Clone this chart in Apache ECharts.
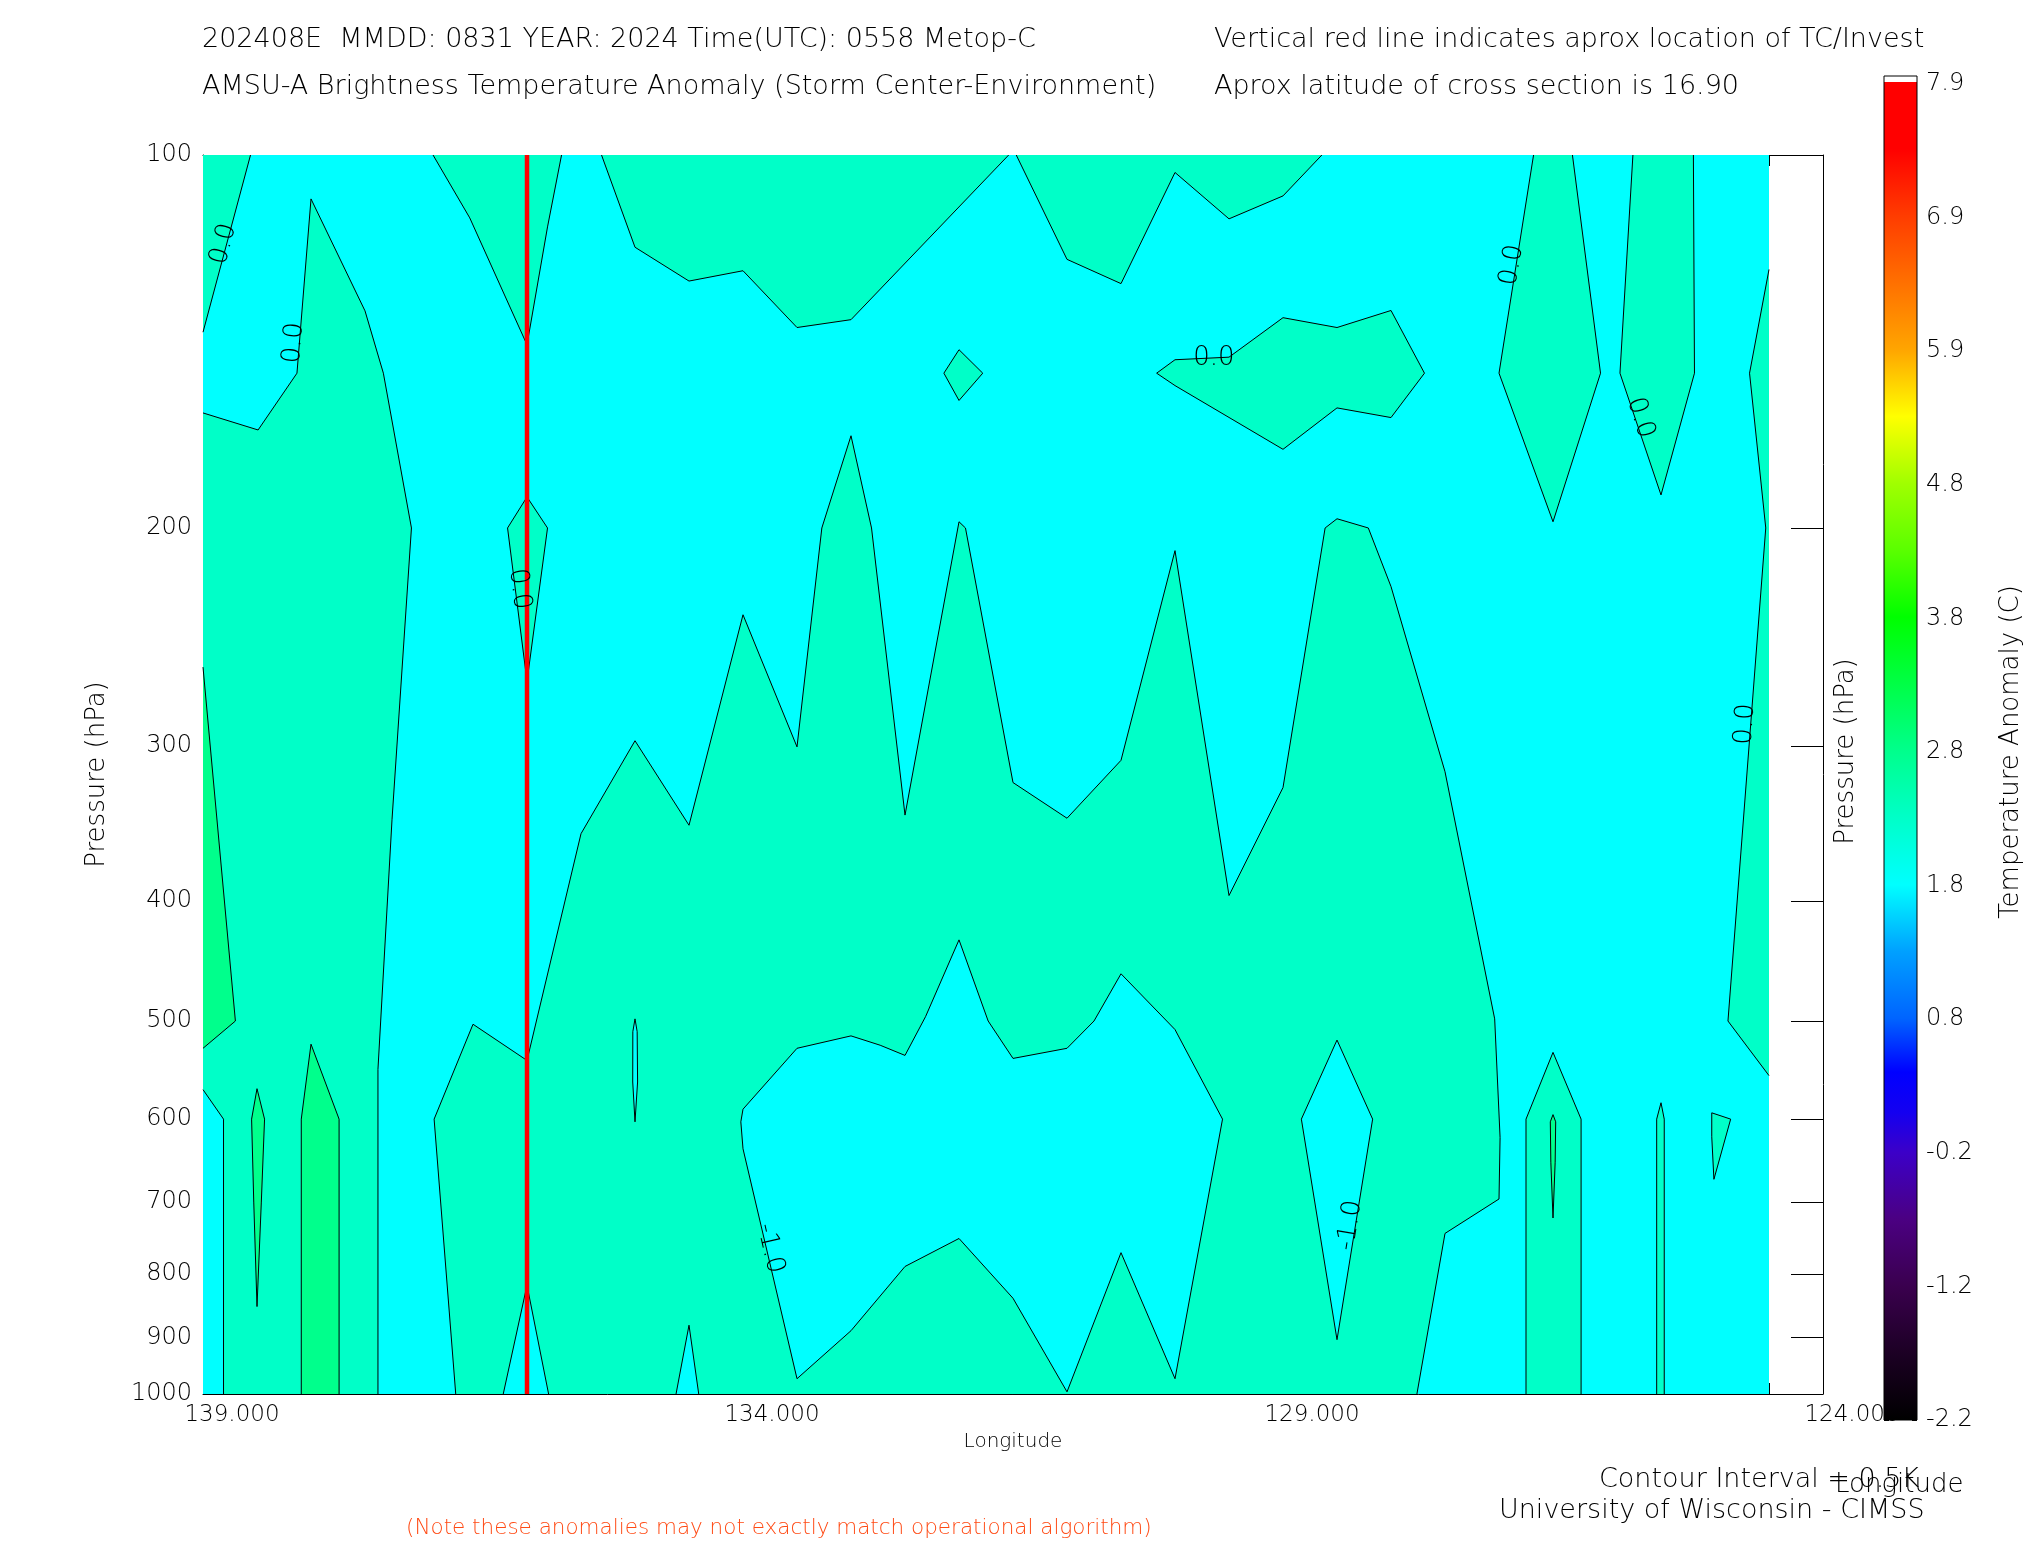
<!DOCTYPE html>
<html><head><meta charset="utf-8">
<script src="https://cdn.jsdelivr.net/npm/echarts@6/dist/echarts.min.js"></script>
<style>html,body{margin:0;padding:0;background:#fff}#chart{width:2025px;height:1550px}</style>
</head><body><div id="chart"></div>
<script>
// ================= DATA =================
const longitudeTicks = [139, 134, 129, 124];
const pressureTicks = [100, 200, 300, 400, 500, 600, 700, 800, 900, 1000];
const colorbarLabels = ['-2.2', '-1.2', '-0.2', '0.8', '1.8', '2.8', '3.8', '4.8', '5.9', '6.9', '7.9'];
const stormLongitude = 136.0;
const sectionWest = 139.0, sectionEast = 124.5, sectionTop = 100, sectionBottom = 1000;

// cross-section extent (cyan base band)
const sectionFrame = [[139, 100], [124.5, 100], [124.5, 1000], [139, 1000]];

// warmer band (aquamarine) contour regions, vertices [longitude, pressure hPa]
const warmTopLeft = [[139, 100], [138.56, 100], [139, 139]];
const warmWestColumn = [[139, 161.5], [138.49, 166.7], [138.13, 150], [138.0, 108.5], [137.5, 133.6], [137.33, 150], [137.07, 200], [137.25, 344], [137.38, 547], [137.38, 1000], [138.81, 1000], [138.81, 600], [139, 568]];
const warmTopStorm = [[136.87, 100], [136.53, 112.4], [136.0, 142.3], [135.81, 114.3], [135.68, 100]];
const warmStormDiamond = [[136.18, 200], [136.0, 188.8], [135.81, 200], [136.0, 266]];
const warmLowerCentral = [[136.66, 1000], [136.86, 600], [136.5, 503], [136.0, 538], [135.5, 353], [135.0, 297], [134.5, 347.5], [134.0, 235], [133.5, 300.4], [133.27, 200], [133.0, 168.5], [132.81, 200], [132.5, 341], [132.0, 197.7], [131.94, 200], [131.5, 321], [131.0, 343], [130.5, 308], [130.0, 208.6], [129.5, 396], [129.0, 324], [128.61, 200], [128.5, 196.6], [128.21, 200], [128.0, 223], [127.5, 314.6], [127.04, 498], [126.99, 621], [127.0, 696], [127.5, 742], [127.76, 1000], [134.41, 1000], [134.5, 880], [134.62, 1000], [135.8, 1000], [136.0, 817], [136.22, 1000]];
const warmTopMiddle = [[135.31, 100], [135.0, 118.7], [134.5, 126.4], [134.0, 124.0], [133.5, 137.8], [133.0, 135.8], [131.54, 100]];
const warmTopEast = [[131.47, 100], [131.0, 121.4], [130.5, 127.0], [130.0, 103.3], [129.5, 112.6], [129.0, 107.9], [128.64, 100]];
const warmSmallDiamond = [[132.14, 150], [132.0, 143.6], [131.78, 150], [132.0, 157.8]];
const warmUpperTongue = [[130.17, 150], [130.0, 146.3], [129.5, 145.6], [129.0, 135.3], [128.5, 137.8], [128.0, 133.5], [127.69, 150], [128.0, 162.9], [128.5, 160.0], [129.0, 172.8], [130.0, 153.5]];
const warmSpikeA = [[126.68, 100], [127.0, 150], [126.5, 197.7], [126.06, 150], [126.32, 100]];
const warmSpikeB = [[125.76, 100], [125.88, 150], [125.5, 188.1], [125.19, 150], [125.2, 100]];
const warmEastEdge = [[124.5, 123.7], [124.68, 150], [124.53, 200], [124.88, 500], [124.5, 553.4]];
const warmLowColumnA = [[126.75, 1000], [126.75, 600], [126.5, 530], [126.24, 600], [126.24, 1000]];
const warmLowColumnB = [[125.54, 1000], [125.54, 600], [125.5, 582], [125.47, 600], [125.47, 1000]];
const warmSmallTriangle = [[125.03, 593], [124.855, 600], [125.01, 671], [125.03, 620]];

// warmest band (green) contour regions
const hotWestEdge = [[139, 259], [138.70, 500], [139, 526]];
const hotSliverWest = [[138.50, 567], [138.43, 600], [138.46, 700], [138.50, 850], [138.53, 700], [138.55, 600]];
const hotColumnWest = [[138.0, 522], [137.74, 600], [137.74, 1000], [138.09, 1000], [138.09, 600]];
const hotSliverEast = [[126.50, 595], [126.475, 603], [126.48, 650], [126.50, 721], [126.52, 650], [126.525, 603]];

// cooler (cyan) regions enclosed by the warm band
const coolCentralBlob = [[134.0, 589], [133.5, 526], [133.0, 514], [132.73, 523], [132.5, 533], [132.31, 496], [132.0, 430], [131.73, 500], [131.5, 536], [131.0, 526], [130.75, 500], [130.5, 458], [130.0, 508], [129.56, 600], [130.0, 972], [130.5, 769], [131.0, 996], [131.5, 837], [132.0, 749], [132.5, 789], [133.0, 889], [133.5, 972], [134.0, 634], [134.02, 603]];
const coolSliver = [[135.0, 498], [134.98, 510], [134.976, 560], [135.0, 603], [135.021, 560], [135.02, 510]];
const coolDiamond = [[128.5, 518], [128.17, 600], [128.5, 904], [128.83, 600]];

// contour labels
const contourLabelText = ['0.0', '0.0', '0.0', '0.0', '0.0', '0.0', '0.0', '-1.0', '-1.0'];
const contourLabelLon = [138.81, 138.16, 136.07, 129.64, 126.88, 125.69, 124.72, 133.75, 128.38];
const contourLabelP = [118, 141.8, 224, 145.8, 122.7, 163, 288, 763, 731];
const contourLabelAngle = [75, 85, -83, 0, 80, -72, 86, -77, 81];

// colour bar (position along the bar in label steps, colour)
const colorbarStops = [[0, '#000000'], [0.5, '#1c0024'], [1.0, '#3a004e'], [1.5, '#4b0082'], [2.0, '#3c00c8'], [2.3, '#1400f0'], [2.6, '#0000ff'], [3.0, '#0064ff'], [3.5, '#00a0ff'], [4.0, '#00ffff'], [4.5, '#00ffc8'], [5.0, '#00ff8c'], [5.5, '#00ff46'], [6.0, '#00ff00'], [6.5, '#5aff00'], [7.0, '#a0ff00'], [7.5, '#ffff00'], [8.0, '#ffa500'], [8.5, '#ff7000'], [9.0, '#ff3c00'], [9.5, '#ff0000'], [10, '#ff0000']];

// ================= RENDERING =================
const FONT = 'DejaVu Sans';
const cyan = '#00ffff', warm = '#00ffc8', hot = '#00ff8c';

const baseBand = [sectionFrame];
const warmBand = [warmTopLeft, warmWestColumn, warmTopStorm, warmStormDiamond, warmLowerCentral, warmTopMiddle, warmTopEast, warmSmallDiamond, warmUpperTongue, warmSpikeA, warmSpikeB, warmEastEdge, warmLowColumnA, warmLowColumnB, warmSmallTriangle];
const hotBand = [hotWestEdge, hotSliverWest, hotColumnWest, hotSliverEast];
const coolHoles = [coolCentralBlob, coolSliver, coolDiamond];

function onFrame(a, b) {
  return (a[0] === b[0] && (a[0] === sectionWest || a[0] === sectionEast)) ||
         (a[1] === b[1] && (a[1] === sectionTop || a[1] === sectionBottom));
}

function polygonRenderer(polys, fill, stroke) {
  return function (params, api) {
    const poly = polys[api.value(2)];
    const pts = poly.map(pt => api.coord(pt));
    const children = [{ type: 'polygon', shape: { points: pts }, style: { fill: fill, stroke: null } }];
    if (stroke) {
      const n = poly.length;
      let start = 0;
      for (let i = 0; i < n; i++) { if (onFrame(poly[i], poly[(i + 1) % n])) { start = (i + 1) % n; break; } }
      let run = [pts[start]];
      const runs = [];
      for (let k = 0; k < n; k++) {
        const i = (start + k) % n, j = (i + 1) % n;
        if (onFrame(poly[i], poly[j])) { if (run.length > 1) runs.push(run); run = [pts[j]]; }
        else run.push(pts[j]);
      }
      if (run.length > 1) runs.push(run);
      runs.forEach(r => children.push({ type: 'polyline', shape: { points: r }, style: { stroke: '#000', lineWidth: 1, fill: null } }));
    }
    return { type: 'group', children: children };
  };
}

function polySeries(polys, fill, stroke, z) {
  return {
    type: 'custom', xAxisIndex: 0, yAxisIndex: 0, z: z, silent: true,
    data: polys.map((p, i) => [p[0][0], p[0][1], i]),
    encode: { x: 0, y: 1 },
    renderItem: polygonRenderer(polys, fill, stroke)
  };
}

const chart = echarts.init(document.getElementById('chart'), null, { renderer: 'canvas' });

const axisLineBlack = { show: true, lineStyle: { color: '#000', width: 1 } };
const tickBlack = { color: '#000', width: 1 };

const titleStyle = (size, color) => ({ fontSize: size, fontWeight: 300, color: color || '#000', fontFamily: FONT, lineHeight: size });

const option = {
  backgroundColor: '#ffffff',
  animation: false,
  title: [
    { text: '202408E  MMDD: 0831 YEAR: 2024 Time(UTC): 0558 Metop-C', left: 202, top: 26, padding: 0, textStyle: titleStyle(27) },
    { text: 'AMSU-A Brightness Temperature Anomaly (Storm Center-Environment)', left: 202, top: 73, padding: 0, textStyle: titleStyle(27) },
    { text: 'Vertical red line indicates aprox location of TC/Invest', left: 1214, top: 26, padding: 0, textStyle: titleStyle(27) },
    { text: 'Aprox latitude of cross section is 16.90', left: 1214, top: 73, padding: 0, textStyle: titleStyle(27) },
    { text: 'Contour Interval = 0.5K', left: 1599, top: 1466, padding: 0, textStyle: titleStyle(27) },
    { text: 'Longitude', left: 1835, top: 1472, padding: 0, textStyle: titleStyle(26) },
    { text: 'University of Wisconsin - CIMSS', left: 1499, top: 1497, padding: 0, textStyle: titleStyle(27) },
    { text: '(Note these anomalies may not exactly match operational algorithm)', left: 406, top: 1518, padding: 0, textStyle: titleStyle(21.5, '#ff4a14') }
  ],
  grid: [
    { left: 203, top: 155, width: 1620, height: 1239, show: false },
    { left: 1884, top: 84, width: 40, height: 1336, show: false }
  ],
  xAxis: [
    { gridIndex: 0, type: 'value', position: 'bottom', min: 124, max: 139, inverse: true, interval: 0.5,
      axisLine: axisLineBlack, axisTick: { show: true, inside: true, length: 11, lineStyle: tickBlack },
      axisLabel: { show: false }, splitLine: { show: false } },
    { gridIndex: 0, type: 'value', position: 'bottom', min: 124, max: 139, inverse: true,
      axisLine: { show: false },
      axisTick: { show: true, inside: true, length: 25, customValues: longitudeTicks, lineStyle: tickBlack },
      axisLabel: { show: true, customValues: longitudeTicks, formatter: v => Number(v).toFixed(3), margin: 10,
        padding: [0, 0, 0, 58], fontSize: 23, fontWeight: 300, color: '#000', fontFamily: FONT },
      splitLine: { show: false },
      name: 'Longitude', nameLocation: 'middle', nameGap: 36,
      nameTextStyle: { fontSize: 20, fontWeight: 300, color: '#000', fontFamily: FONT } },
    { gridIndex: 0, type: 'value', position: 'top', min: 124, max: 139, inverse: true, interval: 0.5,
      axisLine: axisLineBlack, axisTick: { show: true, inside: true, length: 11, lineStyle: tickBlack },
      axisLabel: { show: false }, splitLine: { show: false } },
    { gridIndex: 0, type: 'value', position: 'top', min: 124, max: 139, inverse: true,
      axisLine: { show: false },
      axisTick: { show: true, inside: true, length: 25, customValues: longitudeTicks, lineStyle: tickBlack },
      axisLabel: { show: false }, splitLine: { show: false } },
    { gridIndex: 1, type: 'value', min: 0, max: 1, show: false }
  ],
  yAxis: [
    { gridIndex: 0, type: 'log', logBase: 10, position: 'left', min: 100, max: 1000, inverse: true,
      axisLine: axisLineBlack,
      axisTick: { show: true, inside: true, length: 32, customValues: pressureTicks, lineStyle: tickBlack },
      axisLabel: { show: true, customValues: pressureTicks, formatter: v => String(Math.round(v)), margin: 11,
        fontSize: 24, fontWeight: 300, color: '#000', fontFamily: FONT },
      minorTick: { show: false }, splitLine: { show: false },
      name: 'Pressure (hPa)', nameLocation: 'middle', nameRotate: 90, nameGap: 93,
      nameTextStyle: { fontSize: 26, fontWeight: 300, color: '#000', fontFamily: FONT } },
    { gridIndex: 0, type: 'log', logBase: 10, position: 'right', min: 100, max: 1000, inverse: true,
      axisLine: axisLineBlack,
      axisTick: { show: true, inside: true, length: 32, customValues: pressureTicks, lineStyle: tickBlack },
      axisLabel: { show: false }, minorTick: { show: false }, splitLine: { show: false },
      name: 'Pressure (hPa)', nameLocation: 'middle', nameRotate: 90, nameGap: 10,
      nameTextStyle: { fontSize: 26, fontWeight: 300, color: '#000', fontFamily: FONT, padding: [0, 0, 0, 46] } },
    { gridIndex: 1, type: 'value', position: 'left', min: 0, max: 10, interval: 1,
      axisLine: { show: false },
      axisTick: { show: true, inside: true, length: 5, lineStyle: tickBlack },
      minorTick: { show: true, splitNumber: 2, length: 5, lineStyle: tickBlack },
      axisLabel: { show: false }, splitLine: { show: false } },
    { gridIndex: 1, type: 'value', position: 'right', min: 0, max: 10, interval: 1,
      axisLine: { show: false },
      axisTick: { show: true, inside: true, length: 5, lineStyle: tickBlack },
      minorTick: { show: true, splitNumber: 2, length: 5, lineStyle: tickBlack },
      axisLabel: { show: true, margin: 9, fontSize: 24, fontWeight: 300, color: '#000', fontFamily: FONT,
        formatter: v => colorbarLabels[Math.round(v)] },
      splitLine: { show: false },
      name: 'Temperature Anomaly (C)', nameLocation: 'middle', nameRotate: 90, nameGap: 81,
      nameTextStyle: { fontSize: 26, fontWeight: 300, color: '#000', fontFamily: FONT } }
  ],
  series: [
    polySeries(baseBand, cyan, false, 1),
    polySeries(warmBand, warm, true, 2),
    polySeries(hotBand, hot, true, 3),
    polySeries(coolHoles, cyan, true, 4),
    { type: 'line', xAxisIndex: 0, yAxisIndex: 0, z: 5, silent: true, showSymbol: false, symbol: 'none',
      data: [[stormLongitude, sectionTop], [stormLongitude, sectionBottom]],
      lineStyle: { color: '#ff0000', width: 4.5 } },
    { type: 'custom', xAxisIndex: 0, yAxisIndex: 0, z: 6, silent: true,
      data: contourLabelText.map((t, i) => [contourLabelLon[i], contourLabelP[i], i]),
      encode: { x: 0, y: 1 },
      renderItem: function (params, api) {
        const i = api.value(2);
        const c = api.coord([contourLabelLon[i], contourLabelP[i]]);
        return { type: 'text', x: c[0], y: c[1], rotation: contourLabelAngle[i] * Math.PI / 180,
          style: { text: contourLabelText[i], fill: '#000', fontSize: 26, fontWeight: 300, fontFamily: FONT, align: 'center', verticalAlign: 'middle' } };
      } },
    { type: 'custom', xAxisIndex: 4, yAxisIndex: 2, z: 7, silent: true,
      data: [[0, 0]],
      renderItem: function (params, api) {
        const b = api.coord([0, 0]);
        const t = api.coord([1, 10]);
        const w = t[0] - b[0];
        const grad = new echarts.graphic.LinearGradient(0, 1, 0, 0,
          colorbarStops.map(s => ({ offset: s[0] / 10, color: s[1] })));
        return { type: 'group', children: [
          { type: 'rect', shape: { x: b[0], y: t[1] - 8, width: w, height: b[1] - t[1] + 8 }, style: { fill: '#ffffff' } },
          { type: 'rect', shape: { x: b[0], y: t[1] - 2, width: w, height: b[1] - t[1] + 2 }, style: { fill: grad } },
          { type: 'rect', shape: { x: b[0], y: t[1] - 8, width: w, height: b[1] - t[1] + 8 }, style: { fill: null, stroke: '#000', lineWidth: 1 } }
        ] };
      } }
  ]
};
chart.setOption(option);
</script>
</body></html>
